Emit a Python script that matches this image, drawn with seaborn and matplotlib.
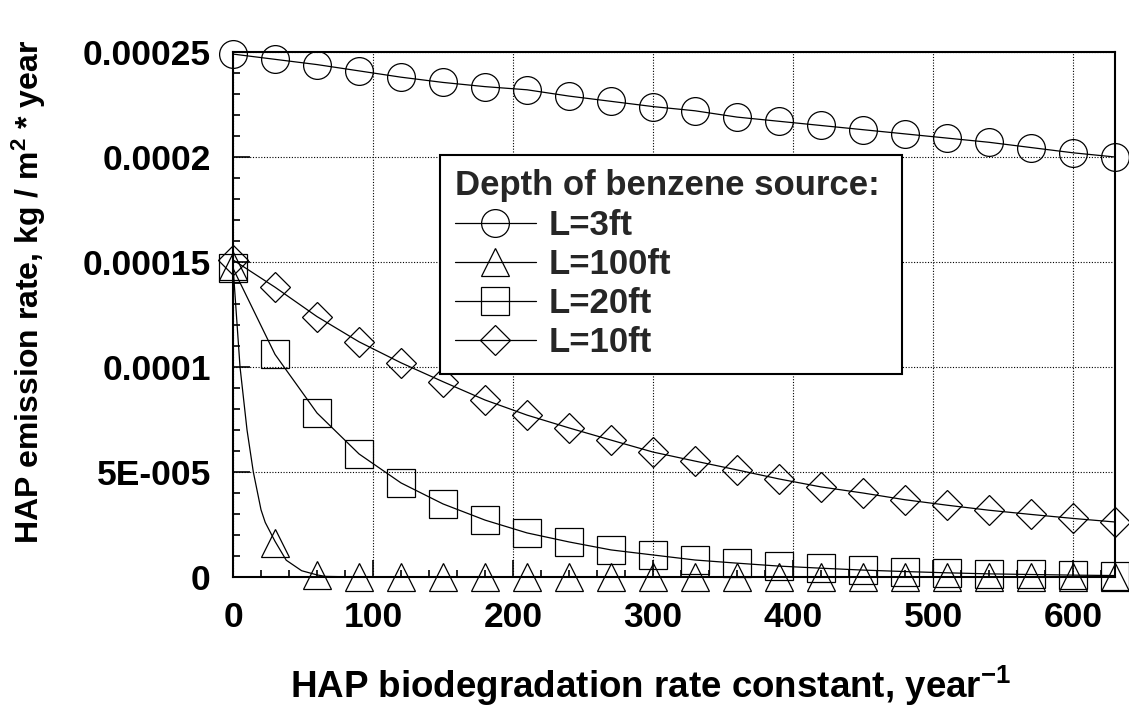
import matplotlib
matplotlib.use("Agg")
import matplotlib.pyplot as plt
from matplotlib.lines import Line2D
from matplotlib.ticker import FixedLocator, FixedFormatter, MultipleLocator
import seaborn as sns
import pandas as pd

# biodegradation rate constant (year^-1) at the marker positions
k = [0, 30, 60, 90, 120, 150, 180, 210, 240, 270, 300,
     330, 360, 390, 420, 450, 480, 510, 540, 570, 600, 630]

# HAP emission rate, kg / m2 * year
rate_3ft = [2.49e-4, 2.465e-4, 2.44e-4, 2.41e-4, 2.38e-4, 2.355e-4, 2.335e-4, 2.32e-4,
            2.29e-4, 2.265e-4, 2.24e-4, 2.22e-4, 2.19e-4, 2.17e-4, 2.15e-4, 2.13e-4,
            2.11e-4, 2.09e-4, 2.07e-4, 2.045e-4, 2.02e-4, 2.00e-4]
rate_100ft = [1.48e-4, 1.6e-5, 1.0e-6, 0, 0, 0, 0, 0, 0, 0, 0,
              0, 0, 0, 0, 0, 0, 0, 0, 0, 0, 0]
rate_20ft = [1.47e-4, 1.06e-4, 7.81e-5, 5.86e-5, 4.48e-5, 3.48e-5, 2.71e-5, 2.10e-5,
             1.67e-5, 1.29e-5, 1.05e-5, 8.1e-6, 6.6e-6, 5.2e-6, 4.2e-6, 3.3e-6,
             2.6e-6, 2.0e-6, 1.5e-6, 1.2e-6, 0.9e-6, 0.7e-6]
rate_10ft = [1.51e-4, 1.38e-4, 1.24e-4, 1.12e-4, 1.02e-4, 9.3e-5, 8.43e-5, 7.71e-5,
             7.10e-5, 6.52e-5, 5.95e-5, 5.52e-5, 5.10e-5, 4.67e-5, 4.29e-5, 4.0e-5,
             3.68e-5, 3.42e-5, 3.18e-5, 2.98e-5, 2.79e-5, 2.62e-5]

# the L=100ft curve bends sharply between markers, extra points
k_curve_100ft = [0, 2.5, 5, 10, 14.5, 20, 23, 30, 38, 49, 60, 66, 90, 630]
rate_curve_100ft = [1.48e-4, 1.24e-4, 1.0e-4, 7.0e-5, 5.0e-5, 3.2e-5, 2.6e-5,
                    1.7e-5, 8.0e-6, 3.0e-6, 1.0e-6, 3.0e-7, 0, 0]

labels = ["L=3ft", "L=100ft", "L=20ft", "L=10ft"]
markers = ["o", "^", "s", "D"]
marker_sizes = [20, 20, 19.5, 15.5]

y_ticks = [0, 5e-5, 1e-4, 1.5e-4, 2e-4, 2.5e-4]
y_tick_labels = ["0", "5E-005", "0.0001", "0.00015", "0.0002", "0.00025"]
x_ticks = [0, 100, 200, 300, 400, 500, 600]

sns.set_theme(style="white")
plt.rcParams["font.family"] = ["Liberation Sans", "DejaVu Sans"]
plt.rcParams["font.weight"] = "bold"
plt.rcParams["axes.labelweight"] = "bold"
plt.rcParams["mathtext.fontset"] = "custom"
plt.rcParams["mathtext.rm"] = "Liberation Sans:bold"
plt.rcParams["mathtext.bf"] = "Liberation Sans:bold"
plt.rcParams["mathtext.default"] = "bf"

fig = plt.figure(figsize=(11.29, 7.21), dpi=100)
ax = fig.add_axes([0.2064, 0.1997, 0.7812, 0.7282])

df = pd.DataFrame({"k": k, "L=3ft": rate_3ft, "L=100ft": rate_100ft,
                   "L=20ft": rate_20ft, "L=10ft": rate_10ft})

line_kw = dict(color="black", linewidth=0.9, markerfacecolor="none",
               markeredgecolor="black", markeredgewidth=0.9, clip_on=False)

# smooth line for the 100ft case, then its markers alone
sns.lineplot(x=k_curve_100ft, y=rate_curve_100ft, ax=ax, color="black",
             linewidth=0.9, clip_on=False)

for lab, m, ms in zip(labels, markers, marker_sizes):
    if lab == "L=100ft":
        sns.lineplot(data=df, x="k", y=lab, ax=ax, marker=m, markersize=ms,
                     linestyle="none", **line_kw)
    else:
        sns.lineplot(data=df, x="k", y=lab, ax=ax, marker=m, markersize=ms, **line_kw)

ax.set_xlim(0, 630)
ax.set_ylim(0, 2.5e-4)

ax.xaxis.set_major_locator(FixedLocator(x_ticks))
ax.xaxis.set_minor_locator(MultipleLocator(20))
ax.yaxis.set_major_locator(FixedLocator(y_ticks))
ax.yaxis.set_major_formatter(FixedFormatter(y_tick_labels))
ax.yaxis.set_minor_locator(MultipleLocator(1e-5))

ax.tick_params(which="both", direction="in", top=False, right=False,
               left=True, bottom=True, color="black", width=1.2)
ax.tick_params(which="major", length=12, labelsize=25.5, labelcolor="black")
ax.tick_params(which="minor", length=5)
ax.tick_params(axis="y", which="major", pad=16)
ax.tick_params(axis="x", which="major", pad=17)

ax.grid(True, which="major", color="black", linestyle=(0, (1, 1.5)), linewidth=0.8)
for sp in ax.spines.values():
    sp.set_color("black")
    sp.set_linewidth(1.5)

ax.set_xlabel(r"HAP biodegradation rate constant, year$^{-1}$", fontsize=26.5,
              fontweight="bold", color="black")
ax.set_ylabel(r"HAP emission rate, kg / m$^{2}$ * year", fontsize=23,
              fontweight="bold", color="black")
ax.xaxis.set_label_coords(0.473, -0.165)
ax.yaxis.set_label_coords(-0.21, 0.543)

handles = [Line2D([], [], color="black", linewidth=0.9, marker=m, markersize=ms,
                  markerfacecolor="none", markeredgecolor="black", markeredgewidth=0.9)
           for m, ms in zip(markers, marker_sizes)]
leg = ax.legend(handles, labels, title="Depth of benzene source:",
                loc="upper left", bbox_to_anchor=(0.2347, 0.379, 0.5238, 0.425),
                mode="expand", alignment="left", fontsize=25, title_fontsize=25,
                frameon=True, fancybox=False, edgecolor="black", framealpha=1,
                borderpad=0.42, labelspacing=0.18, handlelength=2.35,
                handletextpad=0.37, borderaxespad=0)
leg.get_frame().set_linewidth(1.5)
leg.get_title().set_fontweight("bold")
leg.set_zorder(10)

fig.savefig("out.png", dpi=100, facecolor="white")
